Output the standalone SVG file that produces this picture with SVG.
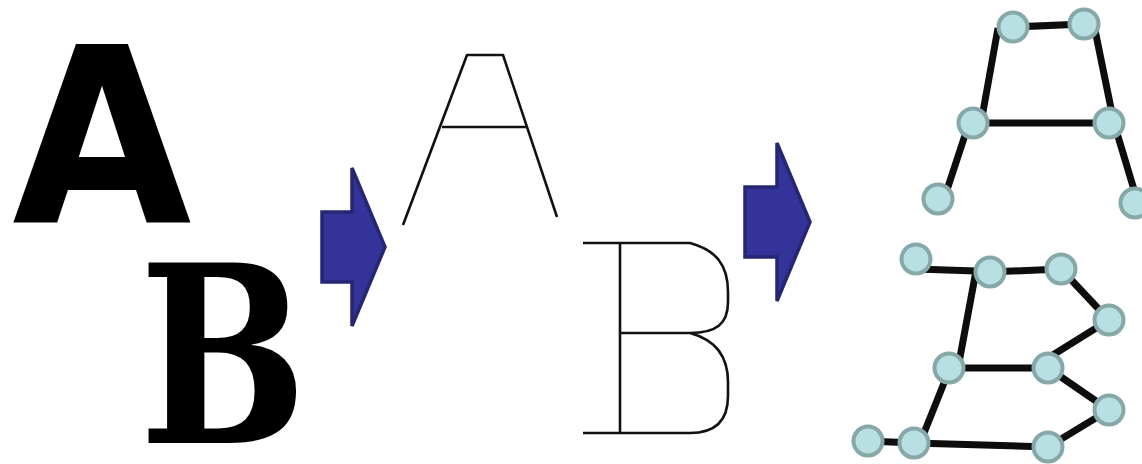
<svg xmlns="http://www.w3.org/2000/svg" width="1142" height="464" viewBox="0 0 1142 464">
<style>
.big{fill:#000;font-weight:bold;text-anchor:middle}
.skel{fill:none;stroke:#111;stroke-width:2.6;stroke-linejoin:round}
.arrow{fill:#333399;stroke:#262673;stroke-width:3.5}
.edge{stroke:#0d0d0d;stroke-width:7;fill:none}
.node{fill:#b8dfe1;stroke:#87a8a9;stroke-width:4}
</style>
<rect width="1142" height="464" fill="#fff"/>
<g id="glyphs">
<text id="glyph-A" class="big" x="102" y="222" font-family="DejaVu Sans, sans-serif" font-size="244" transform="translate(102 0) scale(0.95 1) translate(-102 0)">A</text>
<text id="glyph-B" class="big" x="223" y="443" font-family="DejaVu Serif, serif" font-size="248" transform="translate(223 0) scale(0.8 1) translate(-223 0)">B</text>
</g>
<g id="arrow-1"><path class="arrow" d="M322,212 H352 V168 L385,247 L352,326 V282 H322 Z"/></g>
<g id="skeleton-A"><path class="skel" d="M403,225 L467,55 H503 L557,217 M442,127 H527"/></g>
<g id="skeleton-B"><path class="skel" d="M583,243 H690 C716,250 728,265 728,292 V302 C728,324 716,333 690,333 H620 M690,333 C716,340 728,356 728,382 V396 C728,420 716,433 690,433 H583 M620,243 V433"/></g>
<g id="arrow-2"><path class="arrow" d="M745,187 H777 V143 L810,222 L777,301 V257 H745 Z"/></g>
<g id="connectors">
<path class="edge" d="M1013,27 L1084,24 M998,28 L981,123 M1094,25 L1114,123 M973,123 H1109 M969,123 L944,199 M1114,123 L1138,203"/>
<path class="edge" d="M916,269 L976,271 M976,271 L958,368 M990,272 L1061,269 M1061,269 L1109,320 M1109,320 L1048,358 M949,368 H1048 M1048,368 L1109,410 M1109,410 L1048,447 M914,443 L1048,447 M868,441 L914,443 M950,368 L920,443"/>
</g>
<g id="nodes-A">
<circle id="a1" class="node" cx="1013" cy="27" r="14.5"/>
<circle id="a2" class="node" cx="1084" cy="24" r="14.5"/>
<circle id="a3" class="node" cx="973" cy="123" r="14.5"/>
<circle id="a4" class="node" cx="1109" cy="123" r="14.5"/>
<circle id="a5" class="node" cx="938" cy="199" r="14.5"/>
<circle id="a6" class="node" cx="1135" cy="203" r="14.5"/>
</g>
<g id="nodes-B">
<circle id="b1" class="node" cx="916" cy="259" r="14.5"/>
<circle id="b2" class="node" cx="990" cy="272" r="14.5"/>
<circle id="b3" class="node" cx="1061" cy="269" r="14.5"/>
<circle id="b4" class="node" cx="1109" cy="320" r="14.5"/>
<circle id="b5" class="node" cx="949" cy="368" r="14.5"/>
<circle id="b6" class="node" cx="1048" cy="368" r="14.5"/>
<circle id="b7" class="node" cx="1109" cy="410" r="14.5"/>
<circle id="b8" class="node" cx="868" cy="441" r="14.5"/>
<circle id="b9" class="node" cx="914" cy="443" r="14.5"/>
<circle id="b10" class="node" cx="1048" cy="447" r="14.5"/>
</g>
</svg>
